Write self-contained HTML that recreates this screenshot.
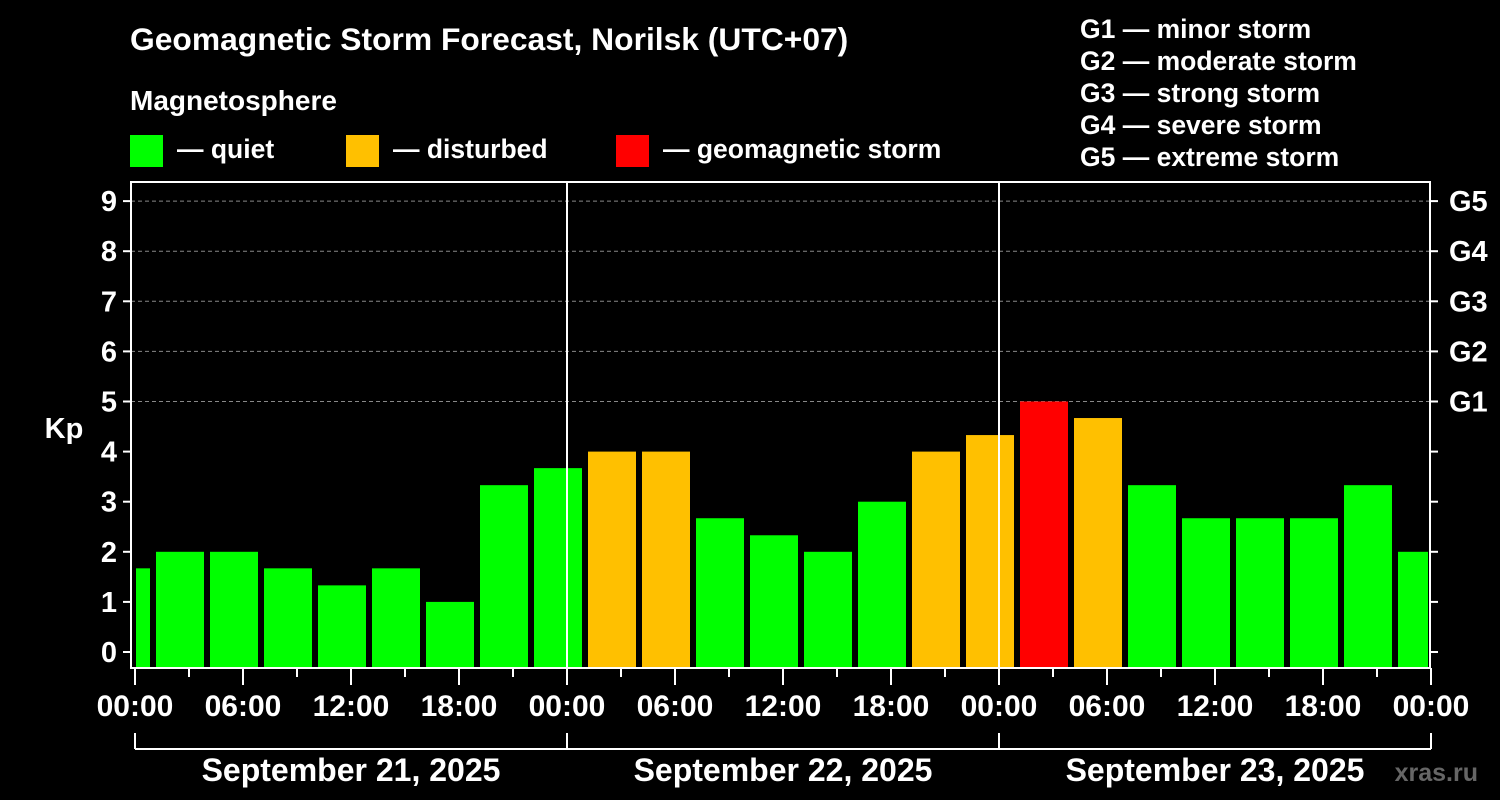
<!DOCTYPE html>
<html><head><meta charset="utf-8"><style>
body{margin:0;background:#000;}
svg{display:block;font-family:"Liberation Sans",sans-serif;font-weight:bold;}
</style></head><body>
<svg id="chart" width="1500" height="800" viewBox="0 0 1500 800">
<rect width="1500" height="800" fill="#000"/>
<text x="130" y="50" fill="#fff" font-size="31.8">Geomagnetic Storm Forecast, Norilsk (UTC+07)</text>
<text x="130" y="110" fill="#fff" font-size="28">Magnetosphere</text>
<g><rect x="130" y="135" width="33" height="32" fill="#00ff00"/><text x="177" y="158" fill="#fff" font-size="26.5">— quiet</text></g>
<g><rect x="346" y="135" width="33" height="32" fill="#ffc000"/><text x="393" y="158" fill="#fff" font-size="26.5">— disturbed</text></g>
<g><rect x="616" y="135" width="33" height="32" fill="#ff0000"/><text x="663" y="158" fill="#fff" font-size="26.5">— geomagnetic storm</text></g>
<g fill="#fff" font-size="26.5">
<text x="1080" y="38">G1 — minor storm</text><text x="1080" y="70">G2 — moderate storm</text><text x="1080" y="102">G3 — strong storm</text><text x="1080" y="134">G4 — severe storm</text><text x="1080" y="166">G5 — extreme storm</text></g>
<text x="64" y="438" fill="#fff" font-size="29" text-anchor="middle">Kp</text>
<text x="1478" y="781" fill="#666" font-size="25" text-anchor="end">xras.ru</text>
<g id="grid"></g><g id="bars"></g><g id="axes"></g>
</svg>
<script>
const kpValues=[1.67,2,2,1.67,1.33,1.67,1,3.33,3.67,4,4,2.67,2.33,2,3,4,4.33,5,4.67,3.33,2.67,2.67,2.67,3.33,2];
const kpStatus=["q","q","q","q","q","q","q","q","q","d","d","q","q","q","q","d","d","s","d","q","q","q","q","q","q"];
const yTicks=[0,1,2,3,4,5,6,7,8,9];
const gLabels=["G1","G2","G3","G4","G5"];
const xLabels=["00:00","06:00","12:00","18:00","00:00","06:00","12:00","18:00","00:00","06:00","12:00","18:00","00:00"];
const dayLabels=["September 21, 2025","September 22, 2025","September 23, 2025"];
const NS="http://www.w3.org/2000/svg";
const L=131,R=1430,T=182,B=668,X0=135,DAY=432;
const y=v=>652-v*50.1;
const xh=h=>X0+h*DAY/24;
const colors={q:"#00ff00",d:"#ffc000",s:"#ff0000"};
function mk(tag,attrs,parent,text){const e=document.createElementNS(NS,tag);for(const k in attrs)e.setAttribute(k,attrs[k]);if(text!==undefined)e.textContent=text;parent.appendChild(e);return e;}
const grid=document.getElementById('grid'),bars=document.getElementById('bars'),axes=document.getElementById('axes');
for(let v=5;v<=9;v++){const l=mk('line',{x1:L,x2:R,y1:y(v),y2:y(v),stroke:'#888','stroke-dasharray':'4,3','stroke-width':1},grid);

}
kpValues.forEach((v,i)=>{const c=xh(-0.5+3*i);let x1=c-24,x2=c+24;x1=Math.max(x1,136);x2=Math.min(x2,1428);
const r=mk('rect',{x:x1,y:y(v),width:x2-x1,height:667-y(v),fill:colors[kpStatus[i]]},bars);

});
[1,2].forEach(d=>{const l=mk('line',{x1:xh(24*d),x2:xh(24*d),y1:T,y2:B,stroke:'#fff','stroke-width':2},axes);

});
const f=mk('rect',{x:L,y:T,width:R-L,height:B-T,fill:'none',stroke:'#fff','stroke-width':2},axes);


yTicks.forEach(v=>{mk('line',{x1:L-8,x2:L,y1:y(v),y2:y(v),stroke:'#fff','stroke-width':2},axes);mk('line',{x1:R,x2:R+8,y1:y(v),y2:y(v),stroke:'#fff','stroke-width':2},axes);
const t=mk('text',{x:117,y:y(v)+10,fill:'#fff','font-size':29,'text-anchor':'end'},axes,String(v));

});
gLabels.forEach((g,i)=>{const t=mk('text',{x:1449,y:y(5+i)+10,fill:'#fff','font-size':29},axes,g);

});
for(let h=0;h<=72;h+=3){const long=h%6===0;mk('line',{x1:xh(h),x2:xh(h),y1:B,y2:B+(long?17:9),stroke:'#fff','stroke-width':2},axes);}
xLabels.forEach((s,i)=>{const t=mk('text',{x:xh(i*6),y:716,fill:'#fff','font-size':30,'text-anchor':'middle'},axes,s);

});
mk('line',{x1:xh(0),x2:xh(72),y1:749,y2:749,stroke:'#fff','stroke-width':2},axes);
for(let d=0;d<=3;d++)mk('line',{x1:xh(24*d),x2:xh(24*d),y1:733,y2:749,stroke:'#fff','stroke-width':2},axes);
dayLabels.forEach((s,i)=>{const t=mk('text',{x:xh(24*i+12),y:781,fill:'#fff','font-size':32,'text-anchor':'middle'},axes,s);

});
</script>
</body></html>
